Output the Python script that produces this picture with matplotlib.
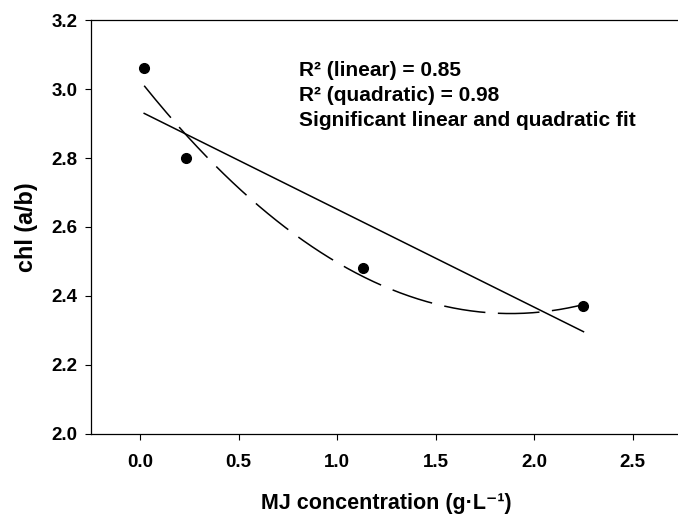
import matplotlib
matplotlib.use("Agg")
import matplotlib.pyplot as plt
import numpy as np

# data
mj = [0.02, 0.23, 1.13, 2.25]
chl = [3.06, 2.80, 2.48, 2.37]
notes = ["R\u00b2 (linear) = 0.85", "R\u00b2 (quadratic) = 0.98",
         "Significant linear and quadratic fit"]
xticks = [0.0, 0.5, 1.0, 1.5, 2.0, 2.5]
yticks = [2.0, 2.2, 2.4, 2.6, 2.8, 3.0, 3.2]

plt.rcParams.update({"font.family": ["Liberation Sans", "DejaVu Sans"],
                     "font.weight": "bold", "font.size": 13.5,
                     "lines.scale_dashes": False})

fig = plt.figure(figsize=(6.78, 5.21), dpi=100)
ax = fig.add_axes([0.1342, 0.167, 0.8717, 0.7946])

x = np.array(mj); y = np.array(chl)
xs = np.linspace(x.min(), x.max(), 200)
lin = np.polyfit(x, y, 1)
quad = np.polyfit(x, y, 2)
ax.plot(xs, np.polyval(lin, xs), color="black", lw=1.1)
ax.plot(xs, np.polyval(quad, xs), color="black", lw=1.1, dashes=(30, 9))
ax.plot(x, y, "o", color="black", ms=7, zorder=5)

ax.set_xlim(-0.25, 2.75)
ax.set_ylim(2.0, 3.2)
ax.set_xticks(xticks)
ax.set_yticks(yticks)
ax.set_xticklabels([f"{v:.1f}" for v in xticks])
ax.set_yticklabels([f"{v:.1f}" for v in yticks])
ax.tick_params(direction="out", length=4.5, width=0.8, labelsize=13.5)
ax.tick_params(axis="x", pad=10)
ax.tick_params(axis="y", pad=5)
for s in ax.spines.values():
    s.set_linewidth(0.9)

ax.set_xlabel("MJ concentration (g\u00b7L\u207b\u00b9)", fontsize=15.5,
              fontweight="bold", labelpad=16)
ax.set_ylabel("chl (a/b)", fontsize=16.8, fontweight="bold", labelpad=10)

for i, t in enumerate(notes):
    ax.text(0.352, 0.865 - i * 0.0604, t, transform=ax.transAxes,
            fontsize=15, fontweight="bold", va="baseline")

fig.savefig("out.png", dpi=100)
